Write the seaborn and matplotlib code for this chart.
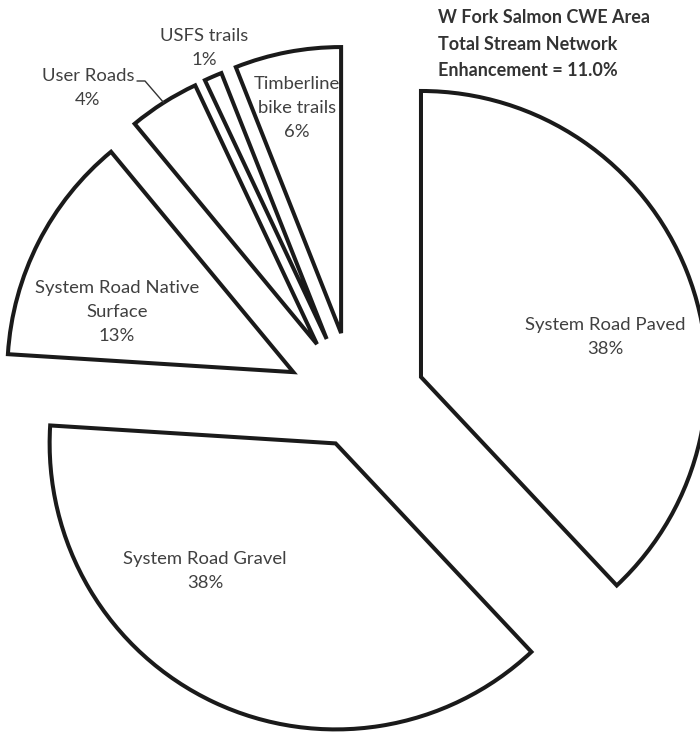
import matplotlib
matplotlib.use("Agg")
import matplotlib.pyplot as plt
from matplotlib.lines import Line2D
import seaborn as sns
import numpy as np

categories = ["System Road Paved", "System Road Gravel", "System Road Native Surface",
              "User Roads", "USFS trails", "Timberline bike trails"]
shares = [38, 38, 13, 4, 1, 6]
label_texts = ["System Road Paved\n38%", "System Road Gravel\n38%",
               "System Road Native\nSurface\n13%", "User Roads\n4%",
               "USFS trails\n1%", "Timberline\nbike trails\n6%"]
title_text = "W Fork Salmon CWE Area\nTotal Stream Network\nEnhancement = 11.0%"

sns.set_theme(style="white")
plt.rcParams['font.family'] = ['Lato', 'DejaVu Sans']

W, H = 700, 732
fig = plt.figure(figsize=(W / 100, H / 100), dpi=100)
ax = fig.add_axes([0, 0, 1, 1])

explode = [0.25, 0.155, 0.24, 0.245, 0.245, 0.25]
wedges, _ = ax.pie(shares, startangle=90, counterclock=False, explode=explode,
                   colors=["white"] * len(shares), radius=1.0,
                   wedgeprops=dict(edgecolor="#1a1a1a", linewidth=2.9, joinstyle="miter"))

R = 286.0
cx, cy = 354.5, 403.3
ax.set_xlim(-cx / R, (W - cx) / R)
ax.set_ylim(-(H - cy) / R, cy / R)
ax.set_aspect("auto")
ax.axis("off")

def px(x, y):
    return x / W, 1 - y / H

txt_color = "#404040"
fs = 13.3
positions = [(605, 337), (205, 571), (117, 312), (88, 88), (204, 48), (297, 108)]
for lab, (x, y) in zip(label_texts, positions):
    fx, fy = px(x, y)
    fig.text(fx, fy, lab, ha="center", va="center", fontsize=fs, color=txt_color,
             linespacing=1.6)

# leader line for User Roads
fig.canvas.draw()
w = wedges[3]
tmid = np.deg2rad((w.theta1 + w.theta2) / 2)
ex, ey = w.center[0] + w.r * np.cos(tmid), w.center[1] + w.r * np.sin(tmid)
epx, epy = ax.transData.transform((ex, ey))
epx, epy = epx / W, epy / H
x0, y0 = px(137, 81)
x1, y1 = px(145, 81)
fig.add_artist(Line2D([x0, x1, epx], [y0, y1, epy], transform=fig.transFigure,
                      color="#333333", lw=1.0))

tx, ty = px(438, 44)
fig.text(tx, ty, title_text, ha="left", va="center", fontsize=13, fontweight="bold",
         color="#333333", linespacing=1.7)

fig.savefig("out.png", dpi=100)
